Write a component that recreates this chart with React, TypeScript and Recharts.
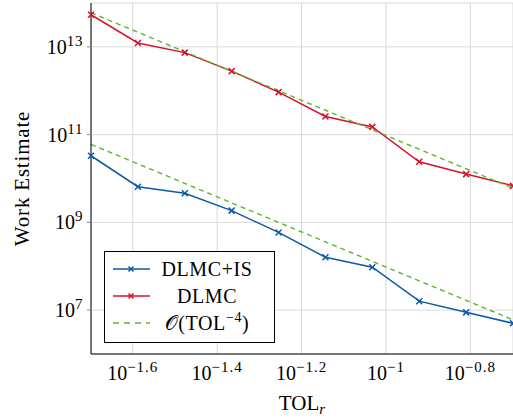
import React from "react";
import { LineChart, Line, XAxis, YAxis, CartesianGrid, Legend } from "recharts";

const FONT = "'Liberation Serif', 'DejaVu Serif', serif";
const BLUE = "#0b5aa6";
const RED = "#d7132e";
const GREEN = "#5db52c";

// TOL_r sample points and the work estimates
const tol = [0.02, 0.02583, 0.03336, 0.04309, 0.05565, 0.07187, 0.09283, 0.1199, 0.1549, 0.2];
const workDlmcIs = [3.3e10, 6.5e9, 4.6e9, 1.85e9, 5.9e8, 1.6e8, 9.5e7, 1.6e7, 8.9e6, 5.0e6];
const workDlmc = [5.4e13, 1.23e13, 7.4e12, 2.8e12, 9.3e11, 2.6e11, 1.5e11, 2.4e10, 1.26e10, 6.8e9];

// O(TOL^-4) guide lines (end points)
const refTol = [0.02, 0.2];
const refUpper = [6.0e13, 6.0e9];
const refLower = [6.0e10, 6.0e6];

const xTickExps = [-1.6, -1.4, -1.2, -1, -0.8];
const yTickExps = [7, 9, 11, 13];
const seriesNames = ["DLMC+IS", "DLMC"];

const xTicks = xTickExps.map((e) => Math.pow(10, e));
const yTicks = yTickExps.map((e) => Math.pow(10, e));

const data = tol.map((t, i) => ({ tol: t, dlmcIs: workDlmcIs[i], dlmc: workDlmc[i] }));
const upperData = refTol.map((t, i) => ({ tol: t, w: refUpper[i] }));
const lowerData = refTol.map((t, i) => ({ tol: t, w: refLower[i] }));

const fmtExp = (v: number) => {
  const e = Math.round(Math.log10(v) * 10) / 10;
  return String(e).replace("-", "\u2212");
};

function YTick({ x, y, payload }: any) {
  return (
    <text x={x} y={y + 7} textAnchor="end" fill="#000" fontFamily={FONT} fontSize={20}>
      10
      <tspan dy={-8} fontSize={15} letterSpacing={0.6}>
        {fmtExp(payload.value)}
      </tspan>
    </text>
  );
}

function XTick({ x, y, payload }: any) {
  return (
    <text x={x} y={y + 18} textAnchor="middle" fill="#000" fontFamily={FONT} fontSize={20}>
      10
      <tspan dy={-8} fontSize={15} letterSpacing={1}>
        {fmtExp(payload.value)}
      </tspan>
    </text>
  );
}

function YLabel({ viewBox }: any) {
  const cx = (viewBox?.x ?? 0) + 22;
  const cy = (viewBox?.y ?? 3) + (viewBox?.height ?? 351) / 2;
  return (
    <text
      x={cx}
      y={cy}
      transform={`rotate(-90 ${cx} ${cy})`}
      textAnchor="middle"
      dominantBaseline="central"
      fontFamily={FONT}
      fontSize={21}
      letterSpacing={0.8}
      fill="#000"
    >
      Work Estimate
    </text>
  );
}

function XLabel({ viewBox }: any) {
  const cx = (viewBox?.x ?? 91) + (viewBox?.width ?? 422) / 2;
  const by = (viewBox?.y ?? 354) + 56;
  return (
    <text x={cx} y={by} textAnchor="middle" fontFamily={FONT} fontSize={21} fill="#000">
      TOL
      <tspan dy={4} fontSize={15} fontStyle="italic">
        r
      </tspan>
    </text>
  );
}

const crossDot = (color: string) => (props: any) => {
  const { cx, cy, index } = props;
  if (cx == null || cy == null) return <g key={index} />;
  const s = 3;
  return (
    <path
      key={index}
      d={`M${cx - s},${cy - s}L${cx + s},${cy + s}M${cx - s},${cy + s}L${cx + s},${cy - s}`}
      stroke={color}
      strokeWidth={1.5}
      fill="none"
    />
  );
};

function Sample({ color, dashed, marker }: { color: string; dashed?: boolean; marker?: boolean }) {
  return (
    <svg width={40} height={12} style={{ position: "absolute", left: 7, top: -6 }}>
      <line
        x1={1}
        y1={6}
        x2={38}
        y2={6}
        stroke={color}
        strokeWidth={1.5}
        strokeDasharray={dashed ? "6 5" : undefined}
      />
      {marker && (
        <path d="M16.5,3.5L21.5,8.5M16.5,8.5L21.5,3.5" stroke={color} strokeWidth={1.5} />
      )}
    </svg>
  );
}

function LegendBox() {
  const textStyle: React.CSSProperties = {
    position: "absolute",
    left: 50,
    width: 104,
    top: -13,
    height: 26,
    lineHeight: "26px",
    textAlign: "center",
    whiteSpace: "nowrap",
    letterSpacing: 0.6,
  };
  const rows = [
    { top: 17, color: BLUE, label: seriesNames[0], marker: true },
    { top: 44, color: RED, label: seriesNames[1], marker: true },
  ];
  return (
    <div
      style={{
        width: 171,
        height: 92,
        boxSizing: "border-box",
        border: "1px solid #000",
        background: "#fff",
        position: "relative",
        fontFamily: FONT,
        fontSize: 20,
        color: "#000",
      }}
    >
      {rows.map((r) => (
        <div key={r.label} style={{ position: "absolute", left: 0, top: r.top, width: "100%" }}>
          <Sample color={r.color} marker={r.marker} />
          <div style={textStyle}>{r.label}</div>
        </div>
      ))}
      <div style={{ position: "absolute", left: 0, top: 71, width: "100%" }}>
        <Sample color={GREEN} dashed />
        <div style={textStyle}>
          <span>{"\u{1D4AA}"}</span>(TOL
          <span style={{ fontSize: 14, position: "relative", top: -8 }}>{"\u22124"}</span>)
        </div>
      </div>
    </div>
  );
}

export default function App() {
  return (
    <div style={{ position: "absolute", left: 0, top: 0, width: 513, height: 420, background: "#fff" }}>
      <LineChart width={513} height={420} data={data} margin={{ top: 3, right: 0, bottom: 0, left: 0 }}>
        <CartesianGrid stroke="#d9d9d9" strokeWidth={1} />
        <XAxis
          dataKey="tol"
          type="number"
          scale="log"
          domain={[0.02, 0.2]}
          ticks={xTicks}
          interval={0}
          height={66}
          tick={<XTick />}
          tickLine={false}
          axisLine={{ stroke: "#000", strokeWidth: 1 }}
          label={{ content: (p: any) => <XLabel viewBox={p.viewBox} /> }}
        />
        <XAxis
          xAxisId="top"
          orientation="top"
          dataKey="tol"
          type="number"
          scale="log"
          domain={[0.02, 0.2]}
          ticks={xTicks}
          interval={0}
          height={0}
          mirror
          tick={() => <g />}
          tickSize={6}
          tickLine={{ stroke: "#777" }}
          axisLine={{ stroke: "#555" }}
        />
        <YAxis
          type="number"
          scale="log"
          domain={[1e6, 1e14]}
          ticks={yTicks}
          interval={0}
          width={91}
          tick={<YTick />}
          tickSize={4}
          tickMargin={4}
          tickLine={{ stroke: "#888" }}
          axisLine={{ stroke: "#000", strokeWidth: 1 }}
          allowDataOverflow
          label={{ content: (p: any) => <YLabel viewBox={p.viewBox} /> }}
        />
        <YAxis
          yAxisId="right"
          orientation="right"
          type="number"
          scale="log"
          domain={[1e6, 1e14]}
          ticks={yTicks}
          interval={0}
          width={0}
          mirror
          tick={() => <g />}
          tickSize={6}
          tickLine={{ stroke: "#777" }}
          axisLine={{ stroke: "#555" }}
        />
        <Line
          dataKey="dlmcIs"
          stroke={BLUE}
          strokeWidth={1.5}
          dot={crossDot(BLUE)}
          activeDot={false}
          isAnimationActive={false}
        />
        <Line
          dataKey="dlmc"
          stroke={RED}
          strokeWidth={1.5}
          dot={crossDot(RED)}
          activeDot={false}
          isAnimationActive={false}
        />
        <Line
          data={upperData}
          dataKey="w"
          stroke={GREEN}
          strokeWidth={1.4}
          strokeDasharray="5 4"
          dot={false}
          activeDot={false}
          isAnimationActive={false}
        />
        <Line
          data={lowerData}
          dataKey="w"
          stroke={GREEN}
          strokeWidth={1.4}
          strokeDasharray="5 4"
          dot={false}
          activeDot={false}
          isAnimationActive={false}
        />
        <Legend
          layout="vertical"
          align="center"
          verticalAlign="middle"
          content={() => <LegendBox />}
          wrapperStyle={{ left: 104, top: 251, width: 171, height: 92 }}
        />
      </LineChart>
    </div>
  );
}
